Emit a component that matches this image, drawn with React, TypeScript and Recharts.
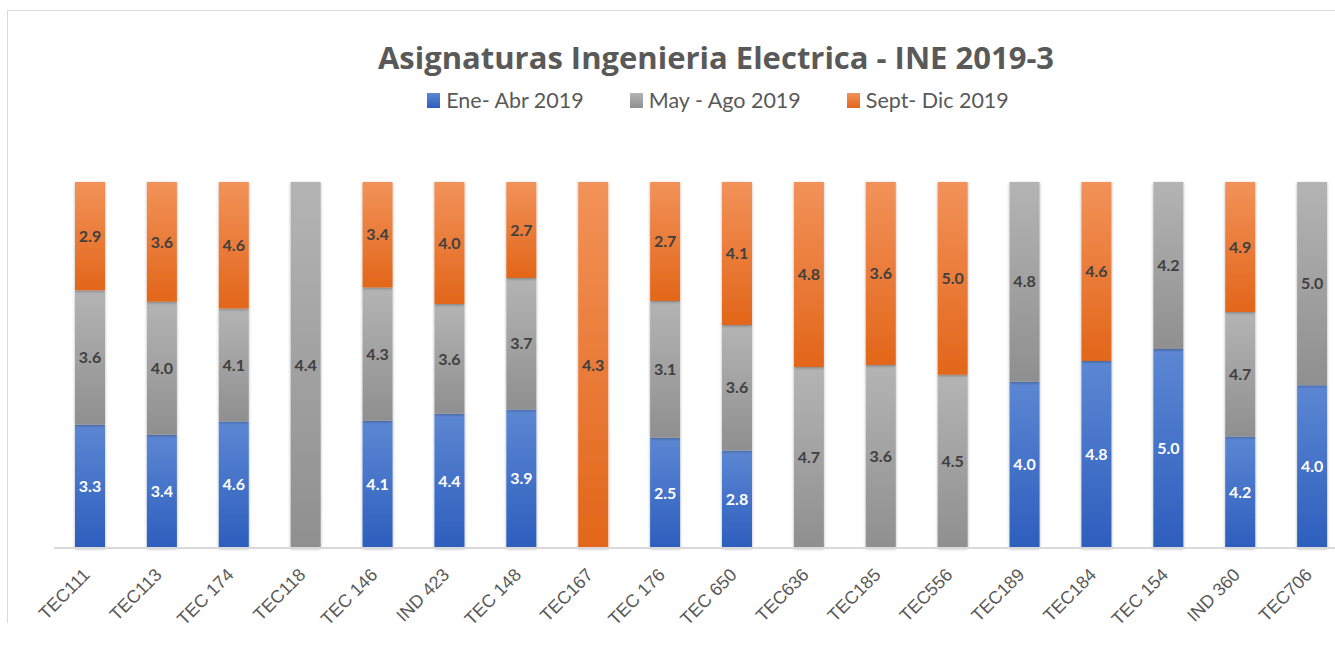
// 100% stacked bars: pass rate per course across the three 2019 terms.
// Recharts, stackOffset="expand"; chart runs a bit past the right edge like the original.

import { Bar, BarChart, LabelList, XAxis, YAxis } from "recharts";

const courses = [
  "TEC111", "TEC113", "TEC 174", "TEC118", "TEC 146", "IND 423", "TEC 148", "TEC167", "TEC 176",
  "TEC 650", "TEC636", "TEC185", "TEC556", "TEC189", "TEC184", "TEC 154", "IND 360", "TEC706",
];
const eneAbr = [3.3, 3.4, 4.6, 0, 4.1, 4.4, 3.9, 0, 2.5, 2.8, 0, 0, 0, 4.0, 4.8, 5.0, 4.2, 4.0];
const mayAgo = [3.6, 4.0, 4.1, 4.4, 4.3, 3.6, 3.7, 0, 3.1, 3.6, 4.7, 3.6, 4.5, 4.8, 0, 4.2, 4.7, 5.0];
const septDic = [2.9, 3.6, 4.6, 0, 3.4, 4.0, 2.7, 4.3, 2.7, 4.1, 4.8, 3.6, 5.0, 0, 4.6, 0, 4.9, 0];
const seriesNames = ["Ene- Abr 2019", "May - Ago 2019", "Sept- Dic 2019"];

const data = courses.map((course, i) => ({
  course,
  ene: eneAbr[i],
  may: mayAgo[i],
  sept: septDic[i],
}));

const TEXT = "#595959";
const LABEL_FONT = "Lato, 'Open Sans', sans-serif";

const grads = [
  { id: "gBlue", top: "#5c87d3", bottom: "#2d5ebd" },
  { id: "gGray", top: "#b4b4b4", bottom: "#8f8f8f" },
  { id: "gOrange", top: "#f29259", bottom: "#e2661a" },
];

const fmt = (v: any) => (v ? Number(v).toFixed(1) : "");

// rotated category label, right end sits just under the bar
const renderTick = ({ x, y, payload }: any) => {
  const tx = x + 1;
  const ty = y + 20;
  return (
    <text
      key={payload.value}
      x={tx}
      y={ty}
      transform={`rotate(-45, ${tx}, ${ty})`}
      textAnchor="end"
      fill={TEXT}
      fontSize={18}
      fontFamily="'Liberation Sans', Arial, sans-serif"
    >
      {payload.value}
    </text>
  );
};

function LegendRow() {
  return (
    <div
      style={{
        position: "absolute",
        top: 87,
        left: 0,
        width: 1436,
        display: "flex",
        justifyContent: "center",
        gap: 46,
        fontFamily: LABEL_FONT,
        fontSize: 21.5,
        color: TEXT,
      }}
    >
      {seriesNames.map((name, i) => (
        <div key={name} style={{ display: "flex", alignItems: "center", gap: 6 }}>
          <span
            style={{
              width: 13,
              height: 15,
              background: `linear-gradient(${grads[i].top}, ${grads[i].bottom})`,
            }}
          />
          <span>{name}</span>
        </div>
      ))}
    </div>
  );
}

export default function App() {
  return (
    <div
      style={{
        position: "absolute",
        left: 0,
        top: 0,
        width: 1335,
        height: 650,
        overflow: "hidden",
        background: "#fff",
      }}
    >
      <div
        style={{
          position: "absolute",
          left: 7,
          top: 10,
          width: 1400,
          height: 612,
          borderLeft: "1px solid #d9d9d9",
          borderTop: "1px solid #d9d9d9",
        }}
      />
      <div
        style={{
          position: "absolute",
          top: 36,
          left: 0,
          width: 1432,
          textAlign: "center",
          fontFamily: "'Open Sans', Lato, sans-serif",
          fontWeight: 700,
          fontSize: 31,
          color: TEXT,
        }}
      >
        Asignaturas Ingenieria Electrica - INE 2019-3
      </div>
      <LegendRow />
      <div style={{ position: "absolute", left: 0, top: 0 }}>
        <BarChart
          width={1360}
          height={650}
          data={data}
          stackOffset="expand"
          barSize={30}
          margin={{ top: 182, right: 12, left: 54, bottom: 22 }}
        >
          <defs>
            {grads.map((g) => (
              <linearGradient key={g.id} id={g.id} x1="0" y1="0" x2="0" y2="1">
                <stop offset="0%" stopColor={g.top} />
                <stop offset="100%" stopColor={g.bottom} />
              </linearGradient>
            ))}
            <filter id="barShadow" x="-30%" y="-5%" width="160%" height="110%">
              <feDropShadow dx="0" dy="1" stdDeviation="1.6" floodColor="#000" floodOpacity="0.3" />
            </filter>
          </defs>
          <XAxis
            dataKey="course"
            interval={0}
            height={80}
            tickLine={false}
            axisLine={{ stroke: "#d9d9d9", strokeWidth: 2 }}
            tick={renderTick}
          />
          <YAxis hide domain={[0, 1]} />
          <Bar dataKey="ene" stackId="a" fill="url(#gBlue)" filter="url(#barShadow)" isAnimationActive={false}>
            <LabelList
              dataKey="ene"
              position="center"
              formatter={fmt}
              fill="#ffffff"
              fontSize={16}
              fontWeight={700}
              fontFamily={LABEL_FONT}
            />
          </Bar>
          <Bar dataKey="may" stackId="a" fill="url(#gGray)" filter="url(#barShadow)" isAnimationActive={false}>
            <LabelList
              dataKey="may"
              position="center"
              formatter={fmt}
              fill="#404040"
              fontSize={16}
              fontWeight={700}
              fontFamily={LABEL_FONT}
            />
          </Bar>
          <Bar dataKey="sept" stackId="a" fill="url(#gOrange)" filter="url(#barShadow)" isAnimationActive={false}>
            <LabelList
              dataKey="sept"
              position="center"
              formatter={fmt}
              fill="#404040"
              fontSize={16}
              fontWeight={700}
              fontFamily={LABEL_FONT}
            />
          </Bar>
        </BarChart>
      </div>
    </div>
  );
}
